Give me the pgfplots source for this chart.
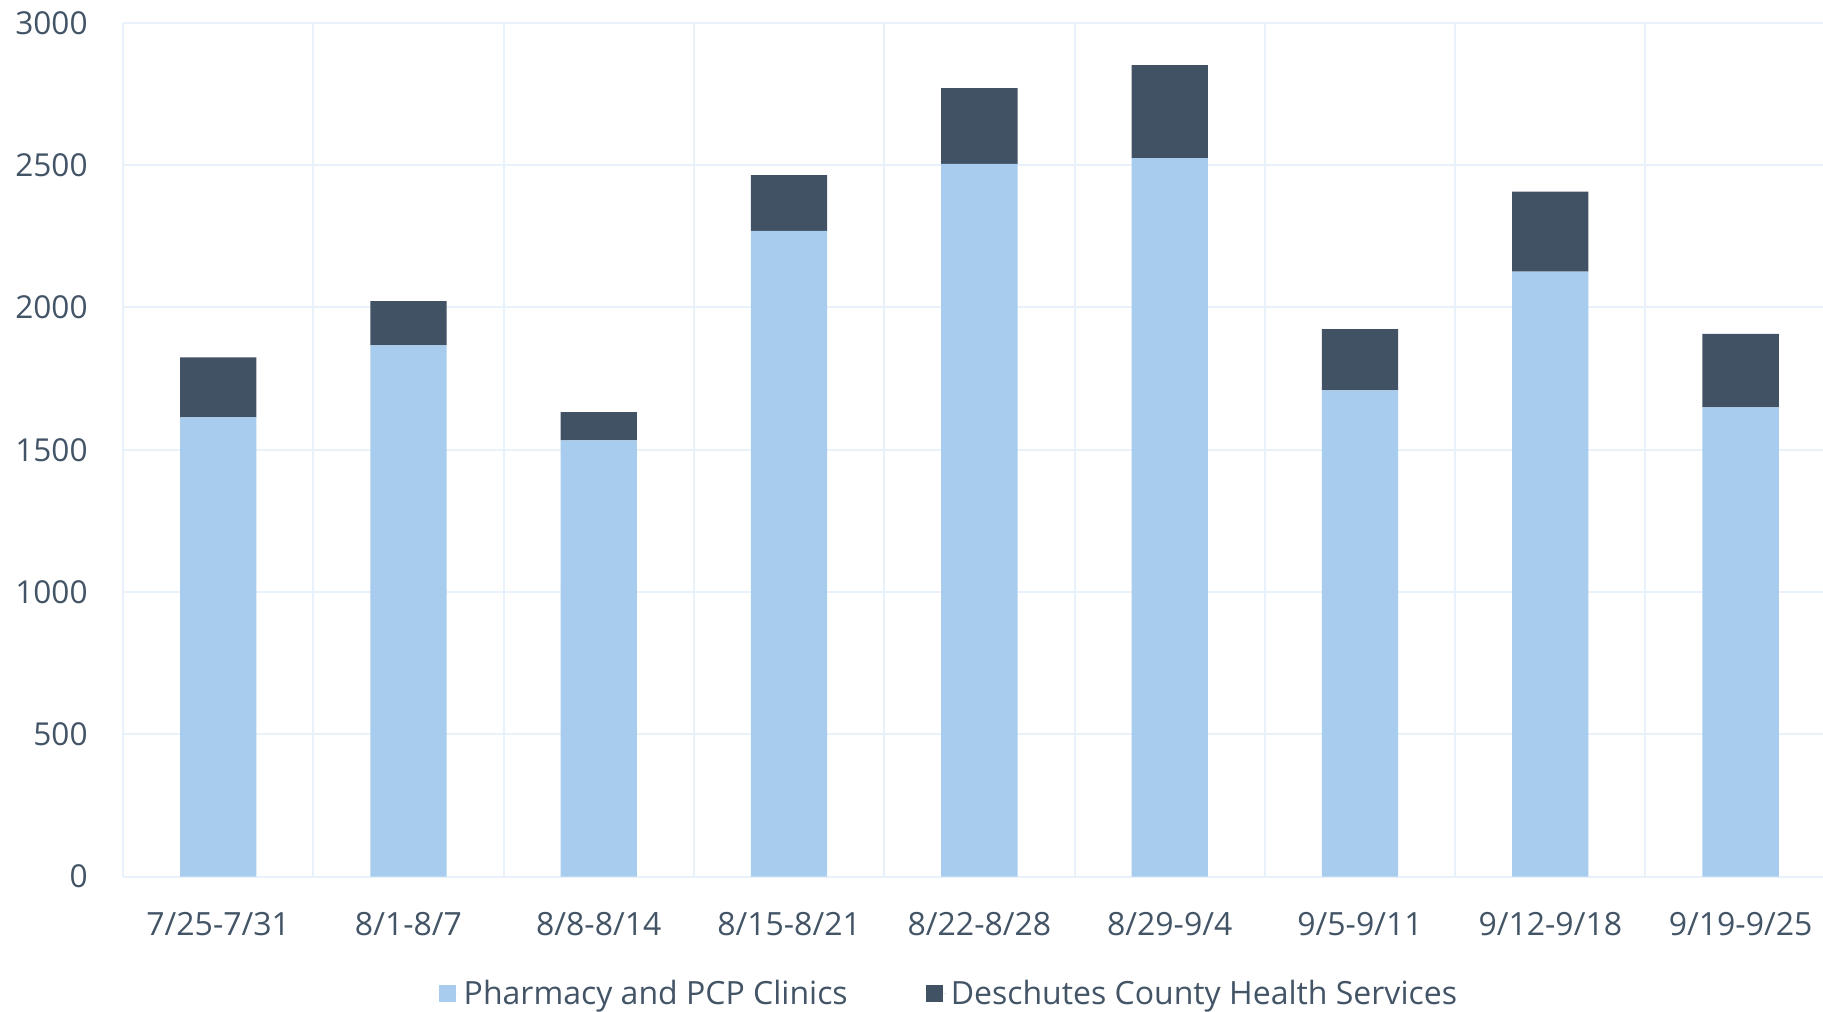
\documentclass[border=0pt]{standalone}
\usepackage{pgfplots}
\pgfplotsset{compat=1.18}
\usepackage{pgfplotstable}
\usepackage{fontspec}
\setmainfont{Open Sans}
\definecolor{txt}{HTML}{425466}
\definecolor{darkbar}{HTML}{415264}
\definecolor{lightbar}{HTML}{A7CCEE}
\definecolor{gridc}{HTML}{E9F1FA}
\pgfplotstableread{
x light dark
0 1614 211
1 1867 155
2 1533 99
3 2269 196
4 2505 266
5 2525 327
6 1709 215
7 2126 281
8 1649 258
}\datatable
\begin{document}
\begin{tikzpicture}
\begin{axis}[
  at={(61.5pt,67.25pt)}, anchor=south west,
  scale only axis, width=850pt, height=426.75pt,
  xmin=-0.5, xmax=8.433, ymin=0, ymax=3000,
  ybar stacked, bar width=38.15pt,
  xtick={0,...,8},
  xticklabels={7/25-7/31,8/1-8/7,8/8-8/14,8/15-8/21,8/22-8/28,8/29-9/4,9/5-9/11,9/12-9/18,9/19-9/25},
  minor xtick={-0.5,0.5,...,7.5},
  ytick={0,500,...,3000},
  xminorgrids, ymajorgrids,
  grid style={draw=gridc, line width=1pt},
  minor grid style={draw=gridc, line width=1pt},
  axis line style={draw=none},
  tick style={draw=none},
  major tick length=0pt, minor tick length=0pt,
  /pgf/number format/assume math mode=true,
  /pgf/number format/1000 sep={},
  ticklabel style={text=txt},
  xticklabel style={font=\fontsize{16}{19}\selectfont, anchor=base, yshift=-29.25pt, inner sep=0pt},
  yticklabel style={font=\fontsize{15.8}{19}\selectfont, anchor=east, inner sep=0pt, xshift=-17.5pt},
  legend style={at={(0.4864,-0.1374)}, anchor=center, draw=none, fill=none,
    font=\fontsize{16}{19}\selectfont, text=txt,
    legend columns=2,
    /tikz/every even column/.append style={column sep=37pt}},
  legend image code/.code={\path (0pt,0pt) -- (10.5pt,0pt);\fill[#1] (0pt,-4.35pt) rectangle (8.7pt,4.35pt);},
  legend cell align=left,
]
\addplot[fill=lightbar, draw=none] table[x=x, y=light] {\datatable};
\addlegendentry{Pharmacy and PCP Clinics}
\addplot[fill=darkbar, draw=none] table[x=x, y=dark] {\datatable};
\addlegendentry{Deschutes County Health Services}
\end{axis}
\pgfresetboundingbox
\useasboundingbox (0,0) rectangle (911.5pt,505.5pt);
\end{tikzpicture}
\end{document}
